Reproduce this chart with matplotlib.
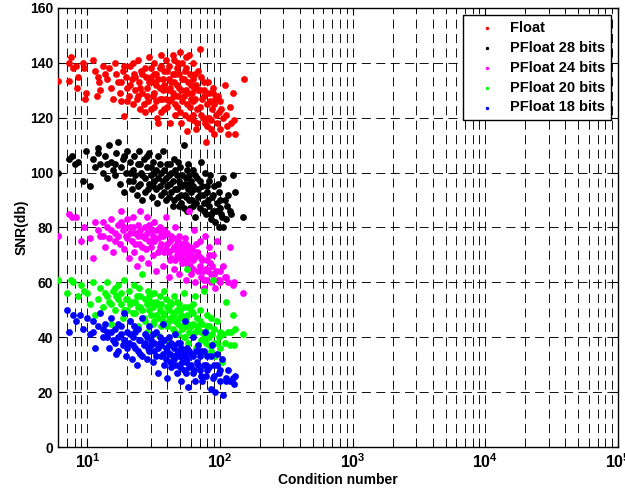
import matplotlib
matplotlib.use("Agg")
import matplotlib.pyplot as plt
from matplotlib.ticker import LogLocator, NullFormatter

plt.rcParams['font.family'] = ['Liberation Sans', 'DejaVu Sans']
plt.rcParams['font.weight'] = 'bold'
plt.rcParams['mathtext.fontset'] = 'custom'
plt.rcParams['mathtext.rm'] = 'Liberation Sans'
plt.rcParams['mathtext.bf'] = 'Liberation Sans:bold'

series_names = ["Float", "PFloat 28 bits", "PFloat 24 bits", "PFloat 20 bits", "PFloat 18 bits"]
series_colors = ["#ff0000", "#000000", "#ff00ff", "#00ff00", "#0000ff"]

float_pts = [(6.0,133.5),(7.2,133.5),(7.3,140),(7.5,142),(7.8,138),(8.2,139),(8.5,135),(8.4,131),(9.2,140),(9.5,138),
    (9.8,129),(9.6,127),(11,141),(11.5,137),(12,135),(12.3,133),(11.8,128),(12.5,130),(13,139),(13.5,136),(14,134),
    (14.5,138),(15,131),(15.5,127),(16,140),(16.5,136),(17,133),(17.5,129),(18,126),(18.5,137),(19,120.5),(19.5,135),
    (20,131),(20.5,128),(21,139),(21.5,134),(22,125),(22.5,136),(23,130),(23.5,127),(24,141),(24.5,133),(25,123),
    (25.5,137),(26,129),(27,122),(27.5,135),(28,131),(28.5,126),(29,142),(30,138),(31,133),(31.5,124),(32,129),
    (33,136),(33.5,120),(34,118),(35,131),(36,139),(36.5,127),(37,134),(38,123),(39,141),(40,137),(40.5,130),(41,126),
    (42,118),(43,133),(44,143),(45,128),(45.5,121),(46,136),(47,124),(48,140),(49,131),(50,144),(51,118),(52,126),
    (53,134),(54,121),(55,138),(56,115),(57,129),(58,143),(59,124),(60,132),(62,119),(63,126),(65,136),(66,116),
    (67,123),(68,130),(70,145),(72,121),(73,127),(75,133),(77,118),(78,111),(80,125),(82,129),(83,120),(85,116),
    (87,123),(88,131),(90,114),(92,127),(95,118),(98,122),(100,126),(105,120),(108,132),(112,117),(115,114),(118,124),
    (125,129),(128,119),(130,114),(152,134),(30,135),(32,140),(35,127),(38,137),(41,134),(44,129),(47,138),(52,140),
    (55,130),(60,127),(64,131),(68,137),(75,128),(80,120),(90,125),(33,132),(27,138),(24,128),(21,132),
    (18,133),(19,139),(20,126),(22,140),(23,135),(25,131),(26,136),(26.5,125),(28,128),(29,133),(30,123),(31,128),
    (32,136),(33,126),(34,134),(35,138),(36,122),(37,130),(38,132),(39,127),(40,124),(41,139),(42,131),(43,127),
    (44,136),(45,133),(46,125),(47,132),(48,128),(49,136),(50,122),(51,130),(52,134),(53,128),(54,137),(56,125),
    (57,133),(58,120),(59,136),(61,129),(62,134),(63,121),(65,127),(66,132),(67,118),(70,130),(71,124),(72,135),
    (74,120),(76,130),(79,117),(81,133),(84,126),(86,119),(89,129),(93,121),(96,128),(99,116),(102,123),(110,121),
    (120,118),(45,141),(55,142),(63,140),(36,143)]

pf28_pts = [(6.0,100),(7.2,105),(7.6,106),(8.0,103),(8.5,104),(9.2,97),(9.8,108),(10.5,95),(11,105),(11.5,102),(12,109),
    (12.5,103),(13,100),(13.5,106),(14,98),(14.5,110),(15,104),(15.5,101),(16,99),(16.5,107),(17,111),(17.5,96),(18,102),
    (18.5,105),(19,93),(19.5,100),(20,108),(20.5,97),(21,104),(21.5,94),(22,101),(22.5,106),(23,99),(23.5,92),(24,103),
    (24.5,108),(25,96),(25.5,100),(26,90),(26.5,105),(27,98),(28,102),(28.5,94),(29,107),(30,99),(30.5,91),(31,104),
    (32,97),(33,101),(33.5,89),(34,106),(35,95),(36,100),(37,108),(38,93),(39,98),(40,103),(41,91),(42,96),(43,100),
    (44,88),(45,105),(46,94),(47,99),(48,91),(49,97),(50,102),(51,89),(52,95),(53,110),(54,92),(55,98),(56,86),(57,103),
    (58,90),(59,96),(60,93),(62,101),(63,88),(64,94),(65,84),(67,98),(68,91),(70,87),(72,104),(73,95),(75,89),(77,100),
    (78,85),(80,93),(82,88),(83,97),(85,83),(87,91),(88,86),(90,95),(92,82),(95,89),(98,93),(100,87),(103,84),(105,98),
    (110,83),(115,92),(118,86),(125,99),(130,93),(150,84),(98,80),(105,80),
    (22,97),(24,95),(25,103),(26,99),(27,93),(28,106),(29,96),(30,102),(31,95),(32,100),(33,94),(34,98),(35,103),
    (36,92),(37,97),(38,101),(39,90),(40,95),(41,99),(42,103),(43,93),(44,97),(45,90),(46,101),(47,94),(48,104),
    (49,88),(50,96),(51,92),(52,99),(53,87),(54,96),(55,91),(56,101),(57,94),(58,99),(59,87),(60,97),(61,90),(63,95),
    (65,99),(66,89),(68,94),(70,92),(71,97),(74,92),(76,86),(79,95),(81,90),(84,99),(86,85),(89,92),(93,86),(96,96),
    (99,90),(102,85),(108,90),(112,88),(120,85),(16,103),(14,103),(19,106),(21,100),(12,107)]

pf24_pts = [(6.0,77),(7.2,85),(7.6,84),(8.2,84),(9.0,75),(9.5,80),(10.5,76),(11,69),(11.5,82),(12,79),(12.5,77),(13,82),
    (13.5,73),(14,80),(14.5,76),(15,83),(15.5,71),(16,78),(17,81),(17.5,74),(18,86),(18.5,79),(19,72),(19.5,77),(20,83),
    (20.5,69),(21,80),(21.5,75),(22,84),(22.5,71),(23,78),(23.5,66),(24,81),(24.5,74),(25,86),(25.5,69),(26,77),(27,80),
    (27.5,72),(28,84),(28.5,67),(29,75),(30,79),(31,70),(32,82),(33,64),(34,76),(35,73),(36,78),(37,66),(38,71),(39,84),
    (40,74),(41,62),(42,68),(43,77),(44,72),(45,65),(46,80),(47,70),(48,75),(49,63),(50,69),(51,74),(52,67),(53,72),
    (54,76),(55,61),(56,70),(57,66),(58,86),(59,73),(60,63),(62,68),(64,79),(65,60),(67,71),(68,64),(70,75),(72,62),
    (73,68),(75,58),(77,77),(78,65),(80,61),(82,70),(83,73),(85,60),(87,66),(90,63),(92,58),(95,75),(98,61),(100,64),
    (105,66),(110,62),(115,60),(118,73),(125,59),(128,60),(150,56),
    (17,77),(18,82),(19,80),(20,76),(21,78),(22,80),(23,74),(24,77),(25,79),(26,73),(27,76),(28,78),(29,81),(30,73),
    (31,77),(32,75),(33,79),(34,71),(35,80),(36,74),(37,77),(38,79),(39,72),(40,78),(41,71),(42,75),(43,69),(44,76),
    (45,73),(46,68),(47,74),(48,71),(49,77),(50,72),(51,70),(52,74),(53,68),(54,71),(55,74),(56,67),(57,72),(58,69),
    (59,66),(60,70),(61,72),(63,65),(64,69),(66,74),(68,70),(70,66),(72,69),(74,64),(76,61),(79,68),(81,64),(84,67),
    (86,63),(89,70),(93,64),(96,61),(100,60),(108,62),(13,77),(15,79),(16,75)]

pf20_pts = [(6.0,61),(7.0,56),(7.5,61),(7.8,60),(8.5,55),(9.0,59),(9.5,57),(10,56),(10.5,52),(11,60),(11.5,48),(12,54),
    (12.5,58),(13,51),(13.5,56),(14,60),(14.5,53),(15,45),(15.5,57),(16,50),(16.5,55),(17,59),(18,52),(18.5,47),(19,61),
    (19.5,54),(20,50),(20.5,57),(21,46),(22,53),(22.5,59),(23,49),(23.5,55),(24,44),(24.5,58),(25,51),(26,63),(26.5,47),
    (27,54),(28,42),(28.5,57),(29,50),(30,53),(31,45),(32,56),(33,48),(33.5,41),(34,52),(35,55),(36,44),(37,49),(38,57),
    (39,39),(40,51),(41,46),(42,53),(43,37),(44,48),(45,55),(46,42),(47,50),(48,45),(49,52),(50,35),(51,48),(52,43),
    (53,56),(54,40),(55,47),(56,65),(57,38),(58,51),(60,44),(62,49),(63,41),(65,55),(66,36),(67,47),(68,43),(70,50),
    (72,39),(73,45),(75,57),(77,34),(78,42),(80,48),(82,37),(83,44),(85,35),(87,41),(88,61),(90,38),(92,33),(95,46),
    (98,40),(100,36),(103,31),(105,41),(110,53),(115,42),(118,37),(125,48),(130,43),(128,37),(150,41),
    (14,55),(15,52),(16,58),(17,54),(18,56),(19,50),(20,54),(21,52),(22,49),(23,53),(24,51),(25,55),(26,50),(27,46),
    (28,52),(29,55),(30,48),(31,51),(32,46),(33,53),(34,47),(35,50),(36,52),(37,46),(38,48),(39,54),(40,44),(41,50),
    (42,47),(43,52),(44,43),(45,49),(46,46),(47,53),(48,41),(49,47),(50,50),(51,44),(52,47),(53,40),(54,51),(55,44),
    (56,48),(57,45),(58,42),(60,50),(62,45),(63,52),(65,42),(67,44),(70,46),(72,42),(75,40),(78,38),(80,44),(83,40),
    (85,47),(90,43),(95,38),(100,42),(108,38),(120,42)]

pf18_pts = [(7.0,50),(7.2,42),(7.8,48),(8.2,46),(8.8,48),(9.2,43),(10,47),(10.5,41),(11,46),(11.5,36),(12,44),(12.5,49),
    (13,40),(13.5,45),(14,42),(14.5,36),(15,47),(15.5,39),(16,43),(16.5,34),(17,45),(18,41),(18.5,37),(19,49),(19.5,33),
    (20,42),(20.5,38),(21,46),(21.5,32),(22,40),(22.5,44),(23,36),(23.5,30),(24,43),(24.5,39),(25,34),(26,47),(26.5,37),
    (27,41),(28,32),(28.5,36),(29,44),(30,39),(31,31),(32,35),(33,42),(34,27),(35,38),(36,33),(37,45),(38,30),(39,36),
    (40,25),(41,40),(42,34),(43,29),(44,37),(45,32),(46,41),(47,27),(48,35),(49,30),(50,38),(51,24),(52,33),(53,28),
    (54,46),(55,31),(56,36),(57,22),(58,29),(60,34),(62,27),(63,40),(65,24),(67,31),(68,37),(70,28),(72,35),(73,24),
    (75,30),(77,42),(78,26),(80,33),(82,29),(85,21),(87,37),(88,25),(90,30),(92,20),(95,34),(98,27),(100,24),(103,32),
    (105,19),(110,25),(115,28),(118,24),(125,25),(128,23),(130,26),
    (14,40),(15,42),(16,38),(17,40),(18,44),(19,39),(20,36),(21,41),(22,37),(23,42),(24,35),(25,39),(26,33),(27,38),
    (28,40),(29,35),(30,37),(31,41),(32,38),(33,33),(34,36),(35,40),(36,37),(37,34),(38,39),(39,32),(40,35),(41,37),
    (42,31),(43,38),(44,33),(45,36),(46,30),(47,34),(48,38),(49,33),(50,29),(51,36),(52,31),(53,35),(54,33),(55,27),
    (56,32),(58,35),(60,30),(62,33),(64,28),(66,35),(68,30),(70,33),(72,26),(75,35),(78,30),(80,28),(85,33),(90,26),
    (95,30),(100,28),(110,24),(17,35),(13,43),(11,42)]

all_series = [float_pts, pf28_pts, pf24_pts, pf20_pts, pf18_pts]

y_ticks = [0, 20, 40, 60, 80, 100, 120, 140, 160]
x_ticks = [10, 100, 1000, 10000, 100000]
x_tick_labels = [r"$\mathbf{10^{1}}$", r"$\mathbf{10^{2}}$", r"$\mathbf{10^{3}}$", r"$\mathbf{10^{4}}$", r"$\mathbf{10^{5}}$"]

fig = plt.figure(figsize=(6.25, 4.97), dpi=100)
ax = fig.add_axes([0.0928, 0.1006, 0.8962, 0.8834])

for name, color, pts in zip(series_names, series_colors, all_series):
    xs = [p[0] for p in pts]
    ys = [p[1] for p in pts]
    ax.scatter(xs, ys, s=24, c=color, linewidths=0, label=name, zorder=3)

ax.set_xscale('log')
ax.set_xlim(6, 1e5)
ax.set_ylim(0, 160)
ax.set_yticks(y_ticks)
ax.set_xticks(x_ticks)
ax.set_xticklabels(x_tick_labels)
ax.xaxis.set_minor_locator(LogLocator(base=10, subs=range(2, 10)))
ax.xaxis.set_minor_formatter(NullFormatter())

dash = (0, (10, 6))
ax.grid(True, which='major', axis='both', color='black', linestyle=dash, linewidth=0.65, zorder=0)
ax.grid(True, which='minor', axis='x', color='black', linestyle=dash, linewidth=0.65, zorder=0)
ax.set_axisbelow(True)

ax.tick_params(which='both', direction='in', top=True, right=True, labelsize=10)
ax.tick_params(axis='x', which='major', labelsize=11.5)
ax.tick_params(which='major', length=5)
ax.tick_params(which='minor', length=3)
for lab in ax.get_yticklabels():
    lab.set_fontweight('bold')
for sp in ax.spines.values():
    sp.set_linewidth(1.0)

ax.set_xlabel("Condition number", fontsize=10, fontweight='bold', labelpad=2)
ax.set_ylabel("SNR(db)", fontsize=10, fontweight='bold', labelpad=1)

leg = ax.legend(loc='upper right', fontsize=10.5, markerscale=0.5, frameon=True, fancybox=False,
                edgecolor='black', framealpha=1, borderaxespad=0.5, handlelength=2.5, handletextpad=0.3,
                labelspacing=0.4, borderpad=0.4)
leg.get_frame().set_linewidth(1.0)
for t in leg.get_texts():
    t.set_fontweight('bold')

fig.savefig("out.png", dpi=100)
